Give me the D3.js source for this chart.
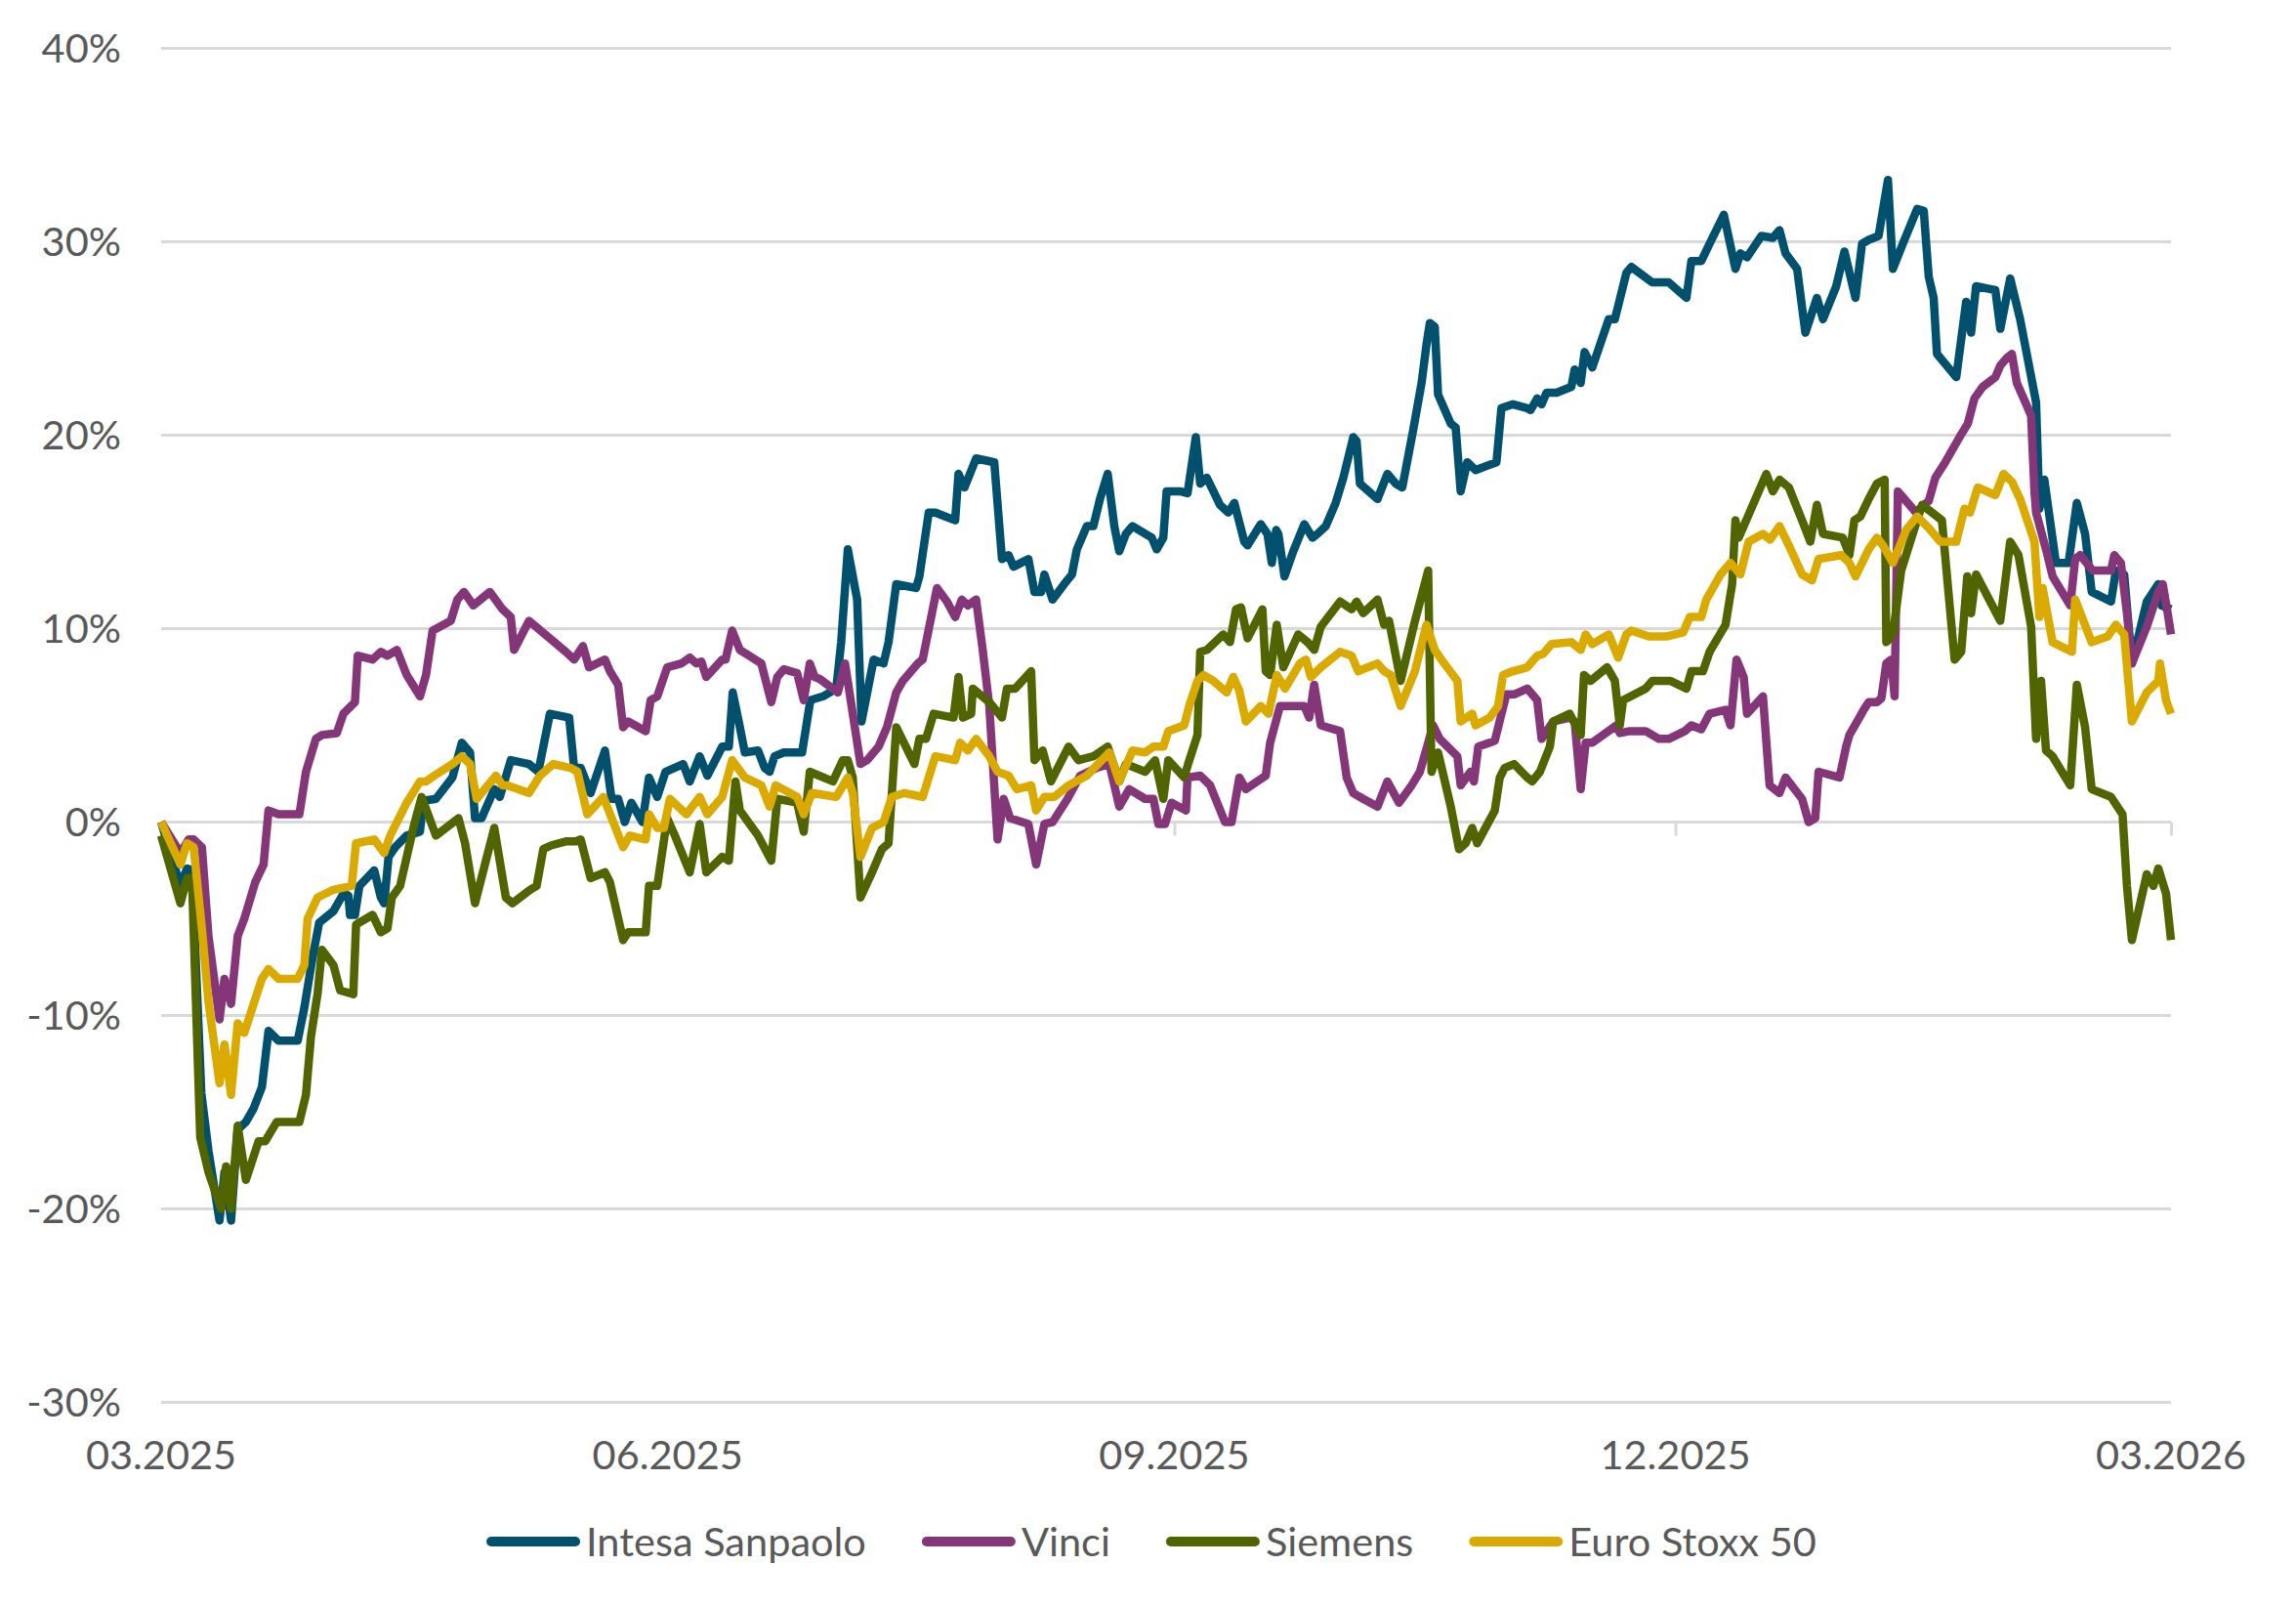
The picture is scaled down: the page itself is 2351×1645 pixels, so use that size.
<!DOCTYPE html>
<html lang="en">
<head>
  <meta charset="UTF-8">
  <title>Intesa Sanpaolo, Vinci, Siemens vs Euro Stoxx 50</title>
  <script src="https://d3js.org/d3.v7.min.js"></script>
  <style>
    html, body { margin: 0; padding: 0; background: #fff; }
    text { font-family: Lato, "Open Sans", sans-serif; fill: #595959; }
  </style>
</head>
<body>
  <svg width="2351" height="1645"></svg>

  <script>
    const width = 2351, height = 1645;
    const svg = d3.select("svg");

    // day 0 = 26.03.2025, values in % performance
    const startDate = new Date(2025, 2, 26);
    const tickDates = [new Date(2025, 2, 26), new Date(2025, 5, 26), new Date(2025, 8, 26), new Date(2025, 11, 26), new Date(2026, 2, 26)];
    const tickLabels = ["03.2025", "06.2025", "09.2025", "12.2025", "03.2026"];
    const yTicks = [40, 30, 20, 10, 0, -10, -20, -30];

    const seriesNames = ["Intesa Sanpaolo", "Vinci", "Siemens", "Euro Stoxx 50"];
    const seriesColors = ["#00506e", "#853678", "#506400", "#daaa00"];

    const intesa = [[0,0],[3.5,-3.3],[4.7,-2.4],[5.6,-2.5],[7.3,-14],[8.6,-17],[10.6,-20.6],[11.5,-18.1],[12.7,-20.6],[13.9,-15.9],[15.4,-15.5],[16.8,-14.8],[18.3,-13.7],[19.5,-10.8],[21.3,-11.3],[24.8,-11.3],[26,-9.6],[27.5,-7.0],[28.7,-5.2],[31.3,-4.6],[33.1,-3.7],[34,-3.8],[34.3,-4.8],[35.2,-4.8],[36,-3.3],[38.7,-2.5],[39.9,-3.9],[40.5,-4.2],[41.3,-1.8],[42.5,-1.3],[44.6,-0.7],[47,-0.5],[47.6,1.1],[49.9,1.2],[52.9,2.3],[54.6,4.1],[56.1,3.6],[57,0.2],[58.2,0.2],[60.5,1.7],[61.5,1.3],[63.5,3.2],[66.8,3.0],[68.5,2.6],[70.6,5.6],[74.1,5.4],[75,2.8],[76.2,2.8],[78,1.5],[80.6,3.7],[81.8,1.2],[83,1.2],[84.2,0],[85.4,1.0],[87.4,0],[88.6,2.3],[90.1,1.3],[91.6,2.6],[94.8,3.0],[96,2.1],[97.8,3.4],[99.2,2.4],[101.9,3.9],[103.1,3.9],[103.8,6.7],[104.9,5.2],[106,3.6],[108.4,3.7],[109.6,2.8],[110.5,2.6],[111.4,3.4],[113.1,3.6],[116.4,3.6],[117.9,6.3],[120.2,6.5],[122.6,6.9],[123.5,9.3],[124.7,14.1],[126.4,11.5],[127.2,5.2],[129.4,8.4],[131.2,8.2],[132.1,9.3],[133.5,12.3],[137.1,12.1],[137.7,12.7],[139.4,16.0],[140.6,16.0],[144.2,15.6],[144.8,18.0],[145.9,17.3],[148,18.8],[151.3,18.6],[152.7,13.6],[153.9,13.8],[154.8,13.2],[157.5,13.6],[158.6,11.9],[159.8,11.9],[160.4,12.8],[161.9,11.5],[164,12.3],[165.4,12.8],[166.3,14.1],[168.1,15.3],[169.3,15.3],[170.5,16.7],[171.9,18.0],[173.1,15.3],[174,14.0],[175.2,14.9],[176.4,15.3],[179.9,14.7],[180.8,14.1],[182,14.7],[182.6,17.1],[185,17.1],[186.4,17.0],[187.9,19.9],[188.7,17.5],[189.9,17.8],[192.3,16.4],[193.8,16.0],[194.9,16.5],[196.7,14.5],[197.3,14.3],[199.7,15.4],[200.9,14.9],[201.7,13.4],[202.5,15.1],[202.9,14.9],[204,12.7],[205.6,14.0],[207.6,15.4],[209.1,14.7],[210,14.9],[211.5,15.3],[213.3,16.5],[214.7,17.8],[216.5,19.9],[217.1,19.7],[217.7,17.5],[220.9,16.7],[222.7,18.0],[224.2,17.5],[225.4,17.3],[227.4,20.3],[228.9,22.7],[229.8,24.7],[230.4,25.8],[231.3,25.6],[231.9,22.1],[234.2,20.6],[235.1,20.4],[236,17.1],[237.2,18.6],[238.7,18.2],[242.5,18.6],[243.4,21.4],[245.5,21.6],[248.1,21.4],[248.7,21.3],[249.9,21.9],[250.7,21.6],[251.6,22.2],[253.4,22.2],[256.1,22.5],[256.7,23.4],[257.8,22.7],[258.5,24.3],[259.9,23.5],[262.9,26.0],[264,26.0],[266.1,28.4],[267,28.7],[270.8,27.9],[273.8,27.9],[277,27.1],[277.9,29.0],[279.7,29.0],[281.2,29.9],[283.8,31.4],[285.9,28.6],[286.8,29.4],[288,29.2],[290.6,30.3],[292.7,30.2],[293.9,30.6],[295,29.4],[297.1,28.6],[298.6,25.3],[300.7,27.1],[301.8,26.0],[304.2,27.7],[305.7,29.5],[307.7,27.1],[308.9,29.9],[310.1,30.1],[311.9,30.3],[313.6,33.2],[314.5,28.6],[316.3,29.9],[318.9,31.7],[320.1,31.6],[321,28.2],[321.9,27.1],[322.5,24.2],[326,23.0],[327.8,26.9],[328.7,25.3],[329.6,27.7],[333.1,27.5],[334,25.5],[335.8,28.1],[337.6,26.0],[340.5,21.7],[341.1,16.2],[342,17.7],[344.1,13.4],[346.4,13.4],[347.9,16.5],[349.4,14.9],[350.6,11.9],[354.1,11.4],[355,13.0],[356.5,12.8],[357.9,8.2],[360.6,11.4],[362.7,12.3],[363.3,11.2],[365,11.0]];

    const vinci = [[0,0],[3.5,-1.6],[5,-0.9],[5.9,-0.9],[7.4,-1.3],[8.6,-5.9],[10.6,-10.2],[11.5,-8.1],[12.7,-9.4],[13.9,-5.9],[15.1,-5.0],[17.1,-3.1],[18.6,-2.2],[19.5,0.6],[21.3,0.4],[25.1,0.4],[26.3,2.6],[28.1,4.3],[29.2,4.5],[31.9,4.6],[33.1,5.6],[35.2,6.2],[35.7,8.6],[38.4,8.4],[39.9,8.8],[41.1,8.6],[42.8,8.9],[44.6,7.6],[47,6.5],[48.1,7.6],[49.3,9.9],[52.6,10.4],[53.8,11.5],[55,11.9],[56.7,11.2],[59.7,11.9],[62,11.0],[63.5,10.6],[64.1,8.9],[66.8,10.4],[70.6,9.5],[73.5,8.8],[75,8.4],[76.6,9.1],[77.7,8.0],[80.6,8.4],[81.5,7.8],[83,7.1],[83.9,4.9],[84.8,5.2],[88,4.7],[88.9,6.3],[90.1,6.5],[91.9,8.0],[94.5,8.2],[96,8.5],[97.2,8.2],[98.1,8.3],[99,7.5],[101.9,8.4],[102.5,8.4],[103.7,9.9],[105.1,8.9],[109,8.2],[110.8,6.2],[111.9,7.5],[113.1,7.9],[115.5,7.7],[116.7,6.3],[117.8,8.2],[118.7,7.5],[119.6,7.4],[122.9,6.7],[124.2,8.2],[125.6,5.6],[127,3.0],[128.2,3.2],[130.3,3.9],[131.8,4.9],[133.5,6.7],[134.7,7.3],[137.4,8.2],[138.3,8.4],[140.9,12.1],[142.7,11.4],[144.2,10.6],[145.4,11.5],[146.5,11.2],[148,11.5],[149.2,8.9],[150.4,6.0],[151.9,-0.9],[153,1.2],[154.2,0.2],[157.5,-0.1],[158.9,-2.2],[160.4,-0.1],[161.9,0],[164.6,1.2],[166.9,2.4],[169.9,2.8],[172.2,3.0],[174,0.8],[175.8,1.7],[178.7,1.2],[180.2,1.2],[181.1,-0.1],[182.3,-0.1],[183.5,1.0],[186.1,0.6],[186.4,2.3],[188.7,2.4],[190.5,1.9],[193.2,0],[194.4,0],[195.8,2.3],[197,1.7],[200.6,2.4],[201.4,4.1],[203.2,6.0],[205,6.0],[207.6,6.0],[208.5,5.4],[209.4,7.1],[210.6,5.0],[214.1,4.7],[215.3,2.3],[216.5,1.5],[218.3,1.2],[220.9,0.8],[222.7,2.1],[224.8,1.0],[227.1,1.9],[228.6,2.6],[231,5.0],[232.2,4.3],[235.4,3.4],[236,1.9],[237.8,2.6],[238.4,2.1],[239.2,3.9],[242.2,4.2],[244.3,6.6],[245.7,6.6],[248.1,6.9],[249.9,6.3],[250.7,4.3],[252.8,5.2],[255.8,5.4],[256.7,5.2],[257.8,1.7],[258.7,4.1],[259.9,4.1],[264.3,5.0],[264.9,4.6],[266.7,4.7],[269.6,4.7],[272,4.3],[273.8,4.3],[276.7,4.7],[277.9,5.0],[279.7,4.8],[281.2,5.6],[284.1,5.8],[285,5.0],[286.1,8.4],[287.4,7.5],[288,5.6],[290.9,6.5],[292.1,1.9],[293.9,1.5],[295,2.3],[298,1.2],[299.2,0],[300.4,0.2],[301,2.6],[304.8,2.3],[306,3.9],[306.6,4.5],[308,5.2],[309.2,5.8],[310.1,6.2],[311.6,6.2],[312.4,6.4],[313.3,8.2],[314.2,8.4],[314.8,6.5],[315.4,17.1],[318.7,16.0],[320.1,16.4],[321,16.6],[322.2,17.8],[324,18.6],[326.6,19.9],[328.1,20.6],[329.3,21.9],[330.8,22.5],[333.1,23.0],[334,23.6],[335.2,24.0],[336.1,24.2],[337,22.7],[338.7,21.6],[339.6,21.0],[340.2,17.1],[340.5,16.0],[342.3,14.1],[343.5,12.7],[346.7,11.2],[347.6,13.6],[348.5,13.8],[350.8,13.0],[354.1,13.0],[354.7,13.8],[355.9,13.4],[357,10.8],[357.9,8.2],[360.6,10.1],[362.7,11.9],[363.5,12.3],[364.4,10.8],[365,9.7]];

    const siemens = [[0,-0.7],[3.5,-4.2],[4.7,-2.9],[5.6,-2.9],[7.1,-16.3],[8.6,-18.1],[10.9,-20.0],[11.8,-17.8],[12.7,-20],[13.9,-15.7],[15.4,-18.5],[17.7,-16.5],[18.9,-16.5],[21,-15.5],[25.1,-15.5],[26.3,-14.1],[27.2,-11.1],[28.4,-8.9],[29.2,-6.6],[31.3,-7.4],[32.5,-8.7],[34.9,-8.9],[35.4,-5.3],[38.4,-4.8],[39.9,-5.7],[41.1,-5.5],[41.9,-3.9],[43.4,-3.3],[45.8,-0.3],[47.3,1.3],[49.9,-0.7],[54,0.2],[55.2,-1.1],[57,-4.2],[60.5,-0.3],[62.6,-3.9],[63.8,-4.2],[67,-3.5],[68.2,-3.3],[69.4,-1.4],[70.9,-1.2],[73.5,-1.0],[75.3,-1.0],[76.2,-0.9],[78,-2.9],[80.6,-2.6],[81.5,-3.1],[83.9,-6.1],[84.8,-5.7],[88,-5.7],[88.6,-3.3],[90.1,-3.3],[91.9,0.2],[93.3,-0.7],[96,-2.6],[97.8,-0.1],[99,-2.6],[101.9,-1.8],[103.1,-2.0],[104.3,2.1],[105.1,0.6],[108.4,-0.7],[110.8,-2.0],[111.9,1.2],[115.5,1.0],[116.7,-0.5],[117.8,2.6],[122,2.1],[123.8,3.2],[124.7,3.2],[125.6,2.3],[127,-3.9],[129.1,-2.6],[130.9,-1.4],[132.1,-1.1],[133.5,4.9],[136.8,3.0],[137.7,4.3],[138.9,4.3],[140.3,5.6],[143.9,5.4],[144.8,7.5],[145.6,5.4],[147.1,5.6],[147.4,6.9],[150.4,6.2],[152.7,5.4],[153.6,6.9],[155.1,6.9],[158,7.8],[158.6,3.2],[160.1,3.7],[161.6,2.1],[164.8,3.9],[166.6,3.2],[169.3,3.4],[171.9,3.9],[174,2.1],[175.2,3.0],[178.7,2.6],[180.5,3.2],[182,1.2],[182.9,3.2],[185.8,2.3],[186.5,3.0],[188.2,4.5],[188.7,8.8],[189.9,8.9],[192.9,9.7],[194.1,9.3],[195.2,11.0],[196.1,11.1],[197.3,9.5],[200,11.0],[200.6,7.8],[201.4,7.6],[202.6,10.2],[203.8,8.0],[206.5,9.7],[208.2,9.3],[209.4,8.9],[210.6,10.1],[214.1,11.4],[216.2,11.0],[217.1,11.4],[218.3,10.8],[220.9,11.5],[222.1,10.2],[223,10.4],[225.1,7.3],[227.7,10.4],[230.1,13.0],[230.7,2.6],[231.9,3.6],[234.2,0.8],[235.7,-1.4],[236.9,-1.1],[238.1,-0.3],[239,-1.1],[242.2,0.6],[243.1,2.3],[244,2.8],[245.7,3.0],[248.1,2.3],[249,2.1],[250.4,2.6],[252.2,3.9],[252.8,5.2],[255.8,5.6],[257.8,4.5],[258.4,7.6],[259.6,7.3],[262.6,8.0],[264,7.3],[264.9,5.0],[265.5,6.3],[269.6,6.9],[270.8,7.3],[274.1,7.3],[277,6.9],[277.9,7.8],[280,7.8],[281.2,8.8],[284.1,10.2],[285.3,12.3],[285.9,15.6],[286.5,14.7],[291.5,18.0],[292.7,17.1],[293.9,17.7],[295.6,17.3],[298,15.6],[299.5,14.5],[300.7,16.4],[301.8,14.9],[305.4,14.7],[306.6,13.8],[307.5,15.6],[308.6,15.8],[310.1,16.7],[311.6,17.5],[313,17.7],[313.3,9.3],[314.5,9.7],[316,13.0],[318.1,14.9],[319.8,16.4],[321.6,16.0],[323.4,15.6],[325.7,8.4],[326.9,8.8],[328,12.7],[328.7,10.8],[329.6,12.8],[334,10.4],[335.8,14.5],[337.3,13.8],[339.6,10.1],[340.5,4.3],[341.4,7.3],[342.3,3.7],[343.5,3.4],[346.7,1.9],[347.9,7.1],[349.4,4.9],[350.6,1.7],[354.1,1.3],[356.2,0.4],[357,-3.3],[357.9,-6.1],[360.6,-2.7],[361.8,-3.3],[362.7,-2.4],[364.1,-3.7],[365,-6.1]];

    const euroStoxx = [[0,0],[3.5,-2.2],[4.7,-1.1],[5.9,-1.3],[7.4,-5.5],[8.6,-9.3],[10.6,-13.5],[11.5,-11.5],[12.7,-14.1],[13.9,-10.4],[15.1,-10.9],[16.8,-9.4],[18.3,-8.1],[19.5,-7.6],[21.3,-8.1],[24.8,-8.1],[26,-7.4],[26.6,-5.0],[28.4,-3.9],[31.3,-3.5],[34.6,-3.3],[35.4,-1.1],[38.7,-0.9],[40.5,-1.6],[41.6,-0.7],[44.6,1.0],[47,2.1],[48.1,2.1],[49.6,2.4],[52.9,3.0],[54.6,3.4],[56.1,3.0],[57.3,1.2],[60.8,2.4],[62,1.9],[62.9,1.9],[66.8,1.5],[68.8,2.4],[71.2,3.0],[74.4,2.8],[75.6,2.6],[77.4,0.4],[80.3,1.3],[82.1,0],[83.9,-1.3],[85.1,-0.7],[88,-0.9],[88.6,0.4],[90.1,-0.3],[91.3,-0.3],[92.4,1.2],[95.4,0.4],[97.8,1.3],[99.2,0.4],[101.9,1.3],[103.7,3.2],[106,2.3],[109,1.9],[110.5,0.8],[111.6,1.9],[115.5,1.3],[116.7,0.4],[118.2,1.5],[122.6,1.3],[124.7,2.3],[125.6,1.5],[127,-1.8],[129.1,-0.3],[131.2,0],[132.7,1.3],[135,1.5],[138.3,1.3],[140.6,3.4],[144.2,3.2],[145.1,4.1],[146.5,3.7],[148,4.3],[150.4,3.4],[151.9,2.6],[153.9,2.4],[155.4,1.7],[158,1.9],[158.9,0.6],[160.4,1.3],[162.2,1.3],[164.8,1.9],[168.1,2.4],[172.2,3.6],[174,2.1],[176.4,3.7],[178.7,3.6],[180.2,3.9],[182,3.9],[182.9,4.7],[185.8,5.0],[186.7,6.0],[188.2,7.3],[189.3,7.6],[191.1,7.3],[193.5,6.7],[194.7,7.5],[195.8,6.8],[197,5.2],[199.7,6.0],[201.1,5.6],[202.6,7.6],[204.1,6.9],[206.8,8.2],[207.9,8.4],[208.8,7.5],[210.6,8.0],[214.1,8.8],[216.2,8.6],[217.4,7.8],[220.9,8.2],[222.1,7.8],[223.3,7.6],[225.1,6.0],[227.7,7.8],[229.8,10.2],[231.3,8.9],[232.5,8.4],[235.4,7.3],[236,5.2],[238.1,5.6],[238.7,5.0],[241.3,5.4],[242.8,6.0],[243.7,7.6],[245.5,7.8],[248.1,8.0],[249.9,8.6],[251,8.7],[252.5,9.2],[256.1,9.3],[257.8,8.9],[258.7,9.7],[259.9,9.2],[262.9,9.7],[264.6,8.5],[266.1,9.7],[267,9.9],[270.2,9.6],[273.5,9.6],[276.4,9.8],[277.6,10.6],[279.7,10.6],[280.6,11.5],[283.2,12.8],[285,13.4],[286.8,12.8],[288.3,14.5],[290.9,14.9],[292.2,14.6],[293.9,15.3],[295.6,14.3],[298,12.8],[299.8,12.5],[301,13.6],[305.1,13.8],[306.6,13.4],[307.7,12.7],[308.9,13.4],[310.1,14.1],[311.6,14.7],[312.7,14.3],[314.5,13.4],[316.9,15.1],[318.9,15.8],[321,15.2],[323.1,14.5],[326,14.5],[327.5,16.2],[328.5,16.0],[329.9,17.3],[333.1,16.9],[334.6,18.0],[336.1,17.6],[337.6,16.7],[340.2,14.5],[341.1,10.6],[341.7,12.1],[343.5,9.3],[347,8.8],[347.6,11.5],[350.6,9.3],[353.5,9.6],[355,10.2],[356.5,9.7],[357.9,5.2],[360.6,6.7],[362.7,7.3],[363,8.2],[364.1,6.3],[365,5.6]];

    const seriesData = [intesa, vinci, siemens, euroStoxx];

    const toDate = day => new Date(startDate.getTime() + day * 864e5);

    const x = d3.scaleTime()
      .domain([tickDates[0], tickDates[tickDates.length - 1]])
      .range([165, 2223]);
    const y = d3.scaleLinear().domain([-30, 40]).range([1435.5, 49.5]);

    // gridlines
    svg.append("g")
      .selectAll("line")
      .data(yTicks)
      .join("line")
      .attr("x1", x.range()[0])
      .attr("x2", x.range()[1])
      .attr("y1", d => y(d))
      .attr("y2", d => y(d))
      .attr("stroke", "#d9d9d9")
      .attr("stroke-width", 3);

    // y labels
    svg.append("g")
      .selectAll("text")
      .data(yTicks)
      .join("text")
      .attr("x", 124)
      .attr("y", d => y(d))
      .attr("dy", "0.36em")
      .attr("text-anchor", "end")
      .style("font-size", "41.5px")
      .text(d => d + "%");

    // x axis on the 0% line, labels at the bottom
    const xAxis = svg.append("g")
      .attr("transform", `translate(0,${y(0)})`)
      .call(d3.axisBottom(x).tickValues(tickDates).tickSize(14).tickFormat(""));
    xAxis.select(".domain").remove();
    xAxis.selectAll(".tick line").attr("stroke", "#d9d9d9").attr("stroke-width", 3);

    svg.append("g")
      .selectAll("text")
      .data(tickDates)
      .join("text")
      .attr("x", d => x(d))
      .attr("y", 1504)
      .attr("text-anchor", "middle")
      .style("font-size", "41.5px")
      .text((d, i) => tickLabels[i]);

    // lines
    const line = d3.line()
      .x(d => x(toDate(d[0])))
      .y(d => y(d[1]));

    svg.append("g")
      .selectAll("path")
      .data(seriesData)
      .join("path")
      .attr("d", line)
      .attr("fill", "none")
      .attr("stroke", (d, i) => seriesColors[i])
      .attr("stroke-width", 8.5)
      .attr("stroke-linejoin", "round")
      .attr("stroke-linecap", "butt");

    // legend
    const legend = svg.append("g");
    const legendY = 1578;
    let lx = 0;
    seriesNames.forEach((name, i) => {
      const item = legend.append("g").attr("transform", `translate(${lx},0)`);
      item.append("line")
        .attr("x1", 5).attr("x2", 91)
        .attr("y1", legendY).attr("y2", legendY)
        .attr("stroke", seriesColors[i])
        .attr("stroke-width", 10)
        .attr("stroke-linecap", "round");
      const t = item.append("text")
        .attr("x", 102)
        .attr("y", legendY)
        .attr("dy", "0.36em")
        .style("font-size", "41.5px")
        .text(name);
      lx += 102 + t.node().getComputedTextLength() + 57;
    });
    const legendWidth = lx - 57;
    legend.attr("transform", `translate(${1179 - legendWidth / 2},0)`);
  </script>
</body>
</html>
